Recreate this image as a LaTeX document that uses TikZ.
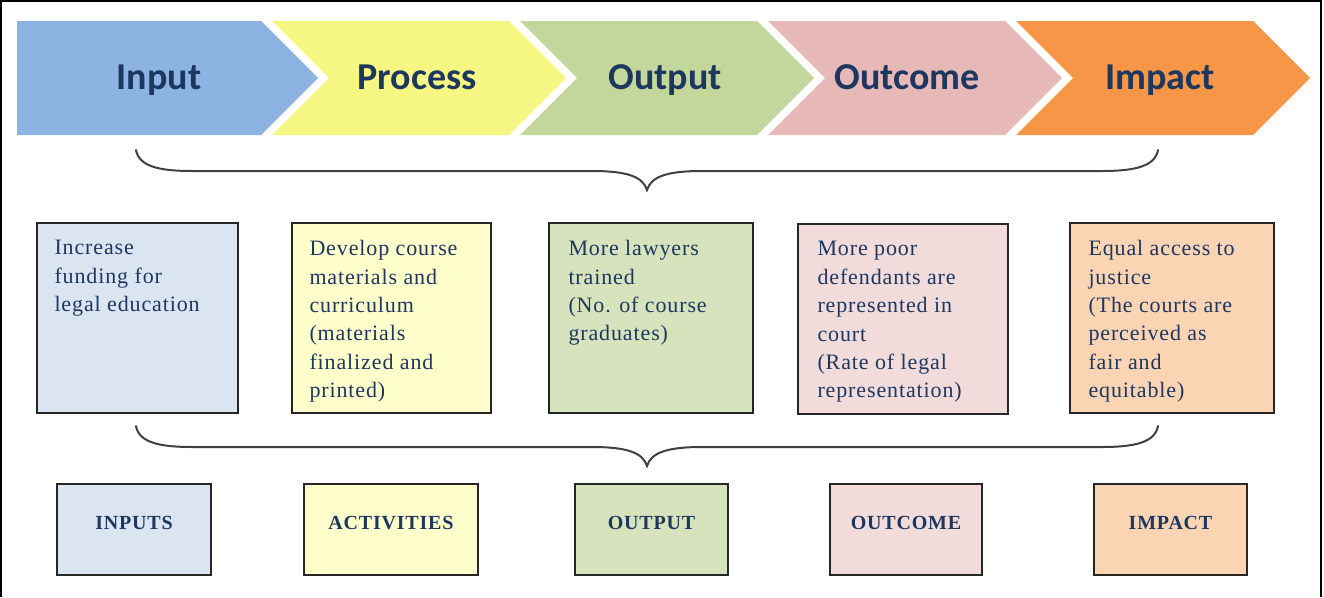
\documentclass[tikz,border=0pt]{standalone}
\usepackage{fontspec}
\setmainfont{Liberation Serif}[LetterSpace=4]
\newfontfamily\chevfont{Carlito}
\usetikzlibrary{positioning}

\definecolor{navy}{RGB}{30,55,95}
\definecolor{chblue}{RGB}{141,179,226}
\definecolor{chyellow}{RGB}{245,247,130}
\definecolor{chgreen}{RGB}{195,214,155}
\definecolor{chpink}{RGB}{230,185,184}
\definecolor{chorange}{RGB}{247,150,70}
\definecolor{ltblue}{RGB}{219,229,241}
\definecolor{ltyellow}{RGB}{255,255,204}
\definecolor{ltgreen}{RGB}{215,227,188}
\definecolor{ltpink}{RGB}{242,220,219}
\definecolor{ltorange}{RGB}{251,212,180}

\begin{document}
\begin{tikzpicture}[x=1pt,y=-1pt,
  chevtext/.style={anchor=base, text=navy, font=\chevfont\bfseries\fontsize{38}{40}\selectfont},
  midbox/.style={draw=black!85, line width=1.4pt, minimum height=190pt, inner sep=0pt},
  midtext/.style={align=left, inner sep=0pt, text=navy, font=\fontsize{22}{28.4}\selectfont},
  botbox/.style={draw=black!85, line width=1.4pt, minimum height=91pt, inner sep=0pt},
  bottext/.style={anchor=base, inner sep=0pt, text=navy, font=\bfseries\fontsize{20}{22}\selectfont},
  brace/.style={draw=black!75, line width=2pt, line cap=round}]
  \useasboundingbox (0,0) rectangle (1324,597);
  \draw[line width=1.5pt] (1,597) -- (1,1) -- (1321,1) -- (1321,597);

  % chevrons
  \fill[chblue] (17,21) -- (261,21) -- (318,78) -- (261,135) -- (17,135) -- cycle;
  \foreach \r/\c in {509/chyellow,757/chgreen,1005/chpink,1253/chorange}
    \fill[\c] (\r-237,21) -- (\r,21) -- (\r+57,78) -- (\r,135) -- (\r-237,135) -- (\r-180,78) -- cycle;
  \node[chevtext] (chinput) at (159,89) {Input};
  \node[chevtext] (chprocess) at (417,89) {Process};
  \node[chevtext] (choutput) at (665,89) {Output};
  \node[chevtext] (choutcome) at (907,89) {Outcome};
  \node[chevtext] (chimpact) at (1160,89) {Impact};

  % braces
  \foreach \yb in {0,276}
    \draw[brace] (136,150+\yb) .. controls (139,166+\yb) and (158,171+\yb) .. (192,171+\yb)
      -- (592,171+\yb) .. controls (628,171+\yb) and (643,177+\yb) .. (647,190+\yb)
      .. controls (651,177+\yb) and (666,171+\yb) .. (702,171+\yb)
      -- (1102,171+\yb) .. controls (1136,171+\yb) and (1155,166+\yb) .. (1158,150+\yb);

  % middle row
  \node[midbox, fill=ltblue, minimum width=201pt] (inbox) at (137.5,318) {};
  \node[midtext, below right=18pt and 18pt of inbox.north west] (intext)
    {Increase\\funding for\\legal education};
  \node[midbox, fill=ltyellow, minimum width=199pt] (procbox) at (391.5,318) {};
  \node[midtext, below right=18pt and 18pt of procbox.north west] (proctext)
    {Develop course\\materials and\\curriculum\\(materials\\finalized and\\printed)};
  \node[midbox, fill=ltgreen, minimum width=204pt] (outbox) at (651,318) {};
  \node[midtext, below right=18pt and 20pt of outbox.north west] (outtext)
    {More lawyers\\trained\\(No. of course\\graduates)};
  \node[midbox, fill=ltpink, minimum width=210pt] (outcbox) at (903,319) {};
  \node[midtext, below right=18pt and 20pt of outcbox.north west] (outctext)
    {More poor\\defendants\ are\\represented\ in\\court\\(Rate of legal\\representation)};
  \node[midbox, fill=ltorange, minimum width=204pt] (impbox) at (1172,318) {};
  \node[midtext, below right=18pt and 19pt of impbox.north west] (imptext)
    {Equal access to\\justice\\(The courts are\\perceived as\\fair and\\equitable)};

  % bottom row
  \node[botbox, fill=ltblue, minimum width=154pt] (inputs) at (134,529.5) {};
  \node[bottext] (inputslab) at (inputs.center) {INPUTS};
  \node[botbox, fill=ltyellow, minimum width=174pt] (activities) at (391,529.5) {};
  \node[bottext] (activitieslab) at (activities.center) {ACTIVITIES};
  \node[botbox, fill=ltgreen, minimum width=153pt] (output) at (651.5,529.5) {};
  \node[bottext] (outputlab) at (output.center) {OUTPUT};
  \node[botbox, fill=ltpink, minimum width=152pt] (outcome) at (906,529.5) {};
  \node[bottext] (outcomelab) at (outcome.center) {OUTCOME};
  \node[botbox, fill=ltorange, minimum width=153pt] (impact) at (1170.5,529.5) {};
  \node[bottext] (impactlab) at (impact.center) {IMPACT};
\end{tikzpicture}
\end{document}
